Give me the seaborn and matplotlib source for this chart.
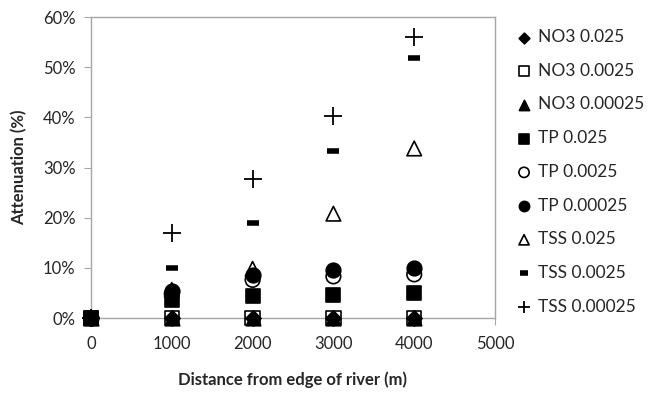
import matplotlib
matplotlib.use('Agg')
import matplotlib.pyplot as plt
import seaborn as sns

# Dados: atenuacao (%) por distancia da margem do rio
distancias = [0, 1000, 2000, 3000, 4000]

no3_0025 = [0, 0, 0, 0, 0]
no3_00025 = [0, 0, 0, 0, 0]
no3_000025 = [0, 0, 0, 0, 0]
tp_0025 = [0, 3.5, 4.4, 4.5, 4.9]
tp_00025 = [0, 4.8, 7.6, 8.3, 8.7]
tp_000025 = [0, 5.3, 8.5, 9.6, 9.9]
tss_0025 = [0, 5.6, 9.8, 20.8, 33.8]
tss_00025 = [0, 10.0, 18.9, 33.3, 51.9]
tss_000025 = [0, 17.0, 27.8, 40.2, 56.0]

# marcadores abertos ficam sem preenchimento (como no Excel)
series = [
    ('NO3 0.025', no3_0025, 'D', 'black'),
    ('NO3 0.0025', no3_00025, 's', 'none'),
    ('NO3 0.00025', no3_000025, '^', 'black'),
    ('TP 0.025', tp_0025, 's', 'black'),
    ('TP 0.0025', tp_00025, 'o', 'none'),
    ('TP 0.00025', tp_000025, 'o', 'black'),
    ('TSS 0.025', tss_0025, '^', 'none'),
    ('TSS 0.0025', tss_00025, '_', 'black'),
    ('TSS 0.00025', tss_000025, '+', 'black'),
]

sns.set_style('white')
plt.rcParams['font.family'] = ['Lato', 'DejaVu Sans']

fig = plt.figure(figsize=(6.48, 3.93), dpi=100)
ax = fig.add_axes([0.1404, 0.1908, 0.6235, 0.7659])

for nome, valores, marcador, cor in series:
    if marcador == '+':
        sns.scatterplot(x=distancias, y=valores, marker='+', s=150, color='black',
                        linewidth=1.3, label=nome, ax=ax, clip_on=False, zorder=3)
    elif marcador == '_':
        sns.scatterplot(x=distancias, y=valores, marker='_', s=70, color='black',
                        linewidth=4, label=nome, ax=ax, clip_on=False, zorder=3)
    else:
        tam = 60 if marcador == 'D' else 110
        sns.scatterplot(x=distancias, y=valores, marker=marcador, s=tam,
                        facecolor=cor, edgecolor='black', linewidth=1.2,
                        label=nome, ax=ax, clip_on=False, zorder=3)

ax.set_xlim(0, 5000)
ax.set_ylim(0, 60)
ax.set_xticks(range(0, 5001, 1000))
ax.set_yticks(range(0, 61, 10))
ax.set_yticklabels([f'{v}%' for v in range(0, 61, 10)])
for sp in ax.spines.values():
    sp.set_color('#a6a6a6')
    sp.set_linewidth(1)
ax.tick_params(axis='both', which='both', length=5, color='#a6a6a6',
               labelsize=12, direction='out', left=True, bottom=True)
ax.tick_params(axis='y', pad=6)
ax.tick_params(axis='x', pad=8)
ax.set_xlabel('Distance from edge of river (m)', fontsize=12, fontweight='bold',
              va='center')
ax.set_ylabel('Attenuation (%)', fontsize=12, fontweight='bold', va='center')
ax.xaxis.set_label_coords(0.5, -0.206)
ax.yaxis.set_label_coords(-0.178, 0.5)

handles, labels = ax.get_legend_handles_labels()
ax.get_legend().remove()
fig.legend(handles, labels, loc='upper left', bbox_to_anchor=(0.798, 0.926),
           frameon=False, fontsize=12.5, labelspacing=1.02, handletextpad=0.4,
           handlelength=0.8, borderpad=0, borderaxespad=0, markerscale=0.7)

fig.savefig('out.png', dpi=100)
